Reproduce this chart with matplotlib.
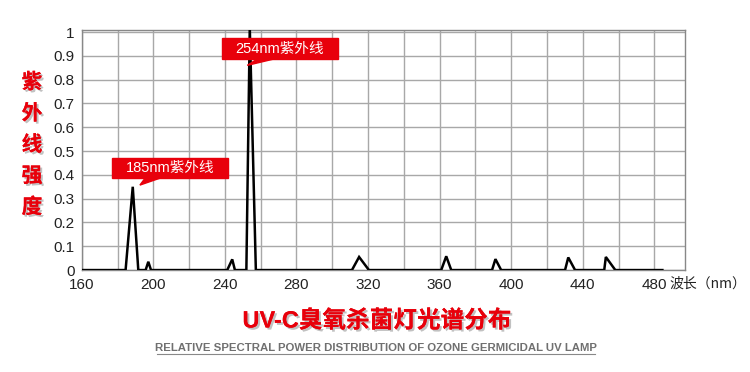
import matplotlib
matplotlib.use('Agg')
import matplotlib.pyplot as plt
import matplotlib.patheffects as pe
from matplotlib.patches import Rectangle, Polygon
from matplotlib.lines import Line2D

plt.rcParams['font.family'] = ['Liberation Sans', 'Noto Sans CJK SC', 'DejaVu Sans']

# spectrum (nm, relative intensity)
wavelength = [160, 184.5, 188.5, 191.6, 195.7, 197.2, 198.7, 241.3, 244.1, 245.6,
              252.0, 253.9, 257.3, 311.0, 315.0, 320.5, 360.9, 363.7, 366.5,
              389.3, 391.2, 394.4, 430.1, 431.9, 435.7, 452.0, 452.9, 458.2, 484.5]
intensity = [0, 0, 0.35, 0, 0, 0.035, 0, 0, 0.045, 0,
             0, 1.02, 0, 0, 0.055, 0, 0, 0.058, 0,
             0, 0.046, 0, 0, 0.053, 0, 0, 0.055, 0, 0]

x_ticks = [160, 200, 240, 280, 320, 360, 400, 440, 480]
y_ticks = [0, 0.1, 0.2, 0.3, 0.4, 0.5, 0.6, 0.7, 0.8, 0.9, 1]
y_ticklabels = ['0', '0.1', '0.2', '0.3', '0.4', '0.5', '0.6', '0.7', '0.8', '0.9', '1']

red = '#e8000b'
shadow = [pe.withSimplePatchShadow(offset=(1.5, -1.5), shadow_rgbFace='#999999', alpha=0.6), pe.Normal()]

fig = plt.figure(figsize=(7.5, 3.72), dpi=100)
ax = fig.add_axes([0.109, 0.274, 0.804, 0.645])

ax.plot(wavelength, intensity, color='black', lw=1.8, solid_joinstyle='miter', zorder=3)

ax.set_xlim(160, 497)
ax.set_ylim(0, 1.008)
ax.set_xticks(range(160, 497, 20), minor=False)
ax.set_xticklabels([str(t) if t in x_ticks else '' for t in range(160, 497, 20)])
ax.set_yticks(y_ticks)
ax.set_yticklabels(y_ticklabels)
ax.grid(True, color='#a8a8a8', lw=1)
ax.tick_params(length=0, labelsize=11, colors='#222222')
ax.tick_params(axis='x', pad=6)
ax.tick_params(axis='y', pad=5)
for s in ax.spines.values():
    s.set_color('#888888')
    s.set_linewidth(1)

# callout boxes
def callout(x0, x1, y0, y1, tail, label):
    ax.add_patch(Rectangle((x0, y0), x1 - x0, y1 - y0, color=red, zorder=4))
    ax.add_patch(Polygon(tail, closed=True, color=red, zorder=4))
    ax.text((x0 + x1) / 2, (y0 + y1) / 2, label, color='white', fontsize=10.5,
            ha='center', va='center', zorder=5,
            family=['Liberation Sans', 'Noto Sans CJK SC'])

callout(238.3, 303, 0.886, 0.974, [(258, 0.886), (267, 0.886), (252.5, 0.86)], '254nm紫外线')
callout(177, 241.7, 0.386, 0.47, [(195.4, 0.386), (203.7, 0.386), (192.5, 0.357)], '185nm紫外线')

# vertical y label
for i, ch in enumerate('紫外线强度'):
    fig.text(32 / 750, 1 - (82 + i * 31.2) / 372, ch, color=red, fontsize=15, fontweight='bold',
             ha='center', va='center', family='Noto Sans CJK SC', path_effects=shadow)

fig.text(746 / 750, 1 - 284 / 372, '波长（nm）', fontsize=10, color='#222222',
         ha='right', va='center', family=['Noto Sans CJK SC'])

fig.text(377 / 750, 1 - 321 / 372, 'UV-C臭氧杀菌灯光谱分布', color=red, fontsize=17,
         fontweight='bold', ha='center', va='center',
         family=['Liberation Sans', 'Noto Sans CJK SC'], path_effects=shadow)
fig.text(376 / 750, 1 - 348 / 372, 'RELATIVE SPECTRAL POWER DISTRIBUTION OF OZONE GERMICIDAL UV LAMP',
         color='#707070', fontsize=8.2, fontweight='bold', ha='center', va='center')
fig.add_artist(Line2D([157 / 750, 595 / 750], [1 - 354 / 372, 1 - 354 / 372], color='#888888', lw=0.8))

fig.savefig('out.png', dpi=100)
